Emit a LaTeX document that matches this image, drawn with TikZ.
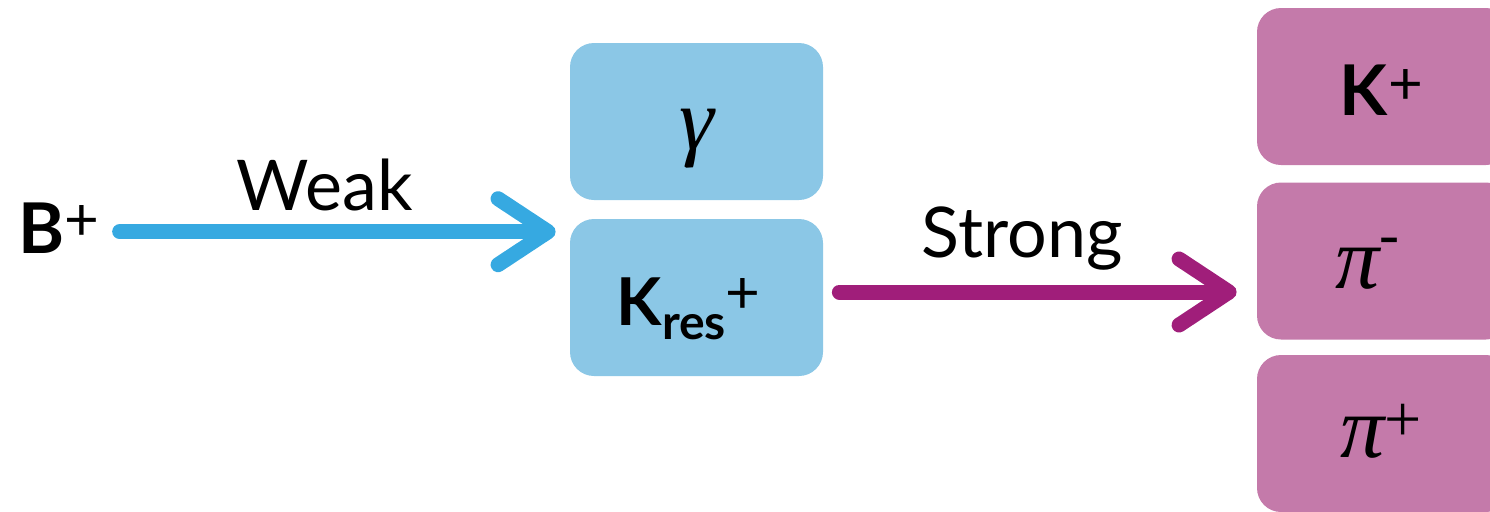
\documentclass[tikz,border=0pt]{standalone}
\usepackage{fontspec}
\setmainfont{Lato}
\newfontfamily\grk{Liberation Serif}
\usetikzlibrary{arrows.meta}
\definecolor{boxblue}{HTML}{8BC7E6}
\definecolor{boxpurple}{HTML}{C47AAA}
\definecolor{arrblue}{HTML}{36A9E1}
\definecolor{arrpurple}{HTML}{A01E7A}
\newcommand{\chg}[2]{\raisebox{#1}{\fontsize{30}{34}\selectfont\mdseries\upshape #2}}
\tikzset{
  particle/.style={rounded corners=12pt, minimum width=126.5pt, minimum height=78.5pt, inner sep=0pt},
  bluebox/.style={particle, fill=boxblue},
  purplebox/.style={particle, fill=boxpurple},
  lbl/.style={anchor=base, inner sep=0pt, font=\fontsize{35}{40}\selectfont},
  greek/.style={anchor=base, inner sep=0pt, font=\grk\itshape\fontsize{44}{50}\selectfont},
  chalk/.style={line width=7.5pt, line cap=round, line join=round,
    -{Straight Barb[round, length=25pt, width=33pt]}},
}
\begin{document}
\begin{tikzpicture}[x=0.5pt, y=-0.5pt]
  \useasboundingbox (0,0) rectangle (1490,511);
  \clip (0,0) rectangle (1490,511);

  % intermediate state
  \node[bluebox] (gamma) at (696.5,121.5) {};
  \node[bluebox] (kres) at (696.5,297.5) {};
  % final state
  \node[purplebox] (kp) at (1383.5,86.5) {};
  \node[purplebox] (pim) at (1383.5,261) {};
  \node[purplebox] (pip) at (1383.5,433.5) {};

  % particle labels
  \node[lbl, anchor=base west] (bp) at (18,253) {\textbf{B}\chg{6.5pt}{+}};
  \node[greek] (gammaT) at ([yshift=-14pt]gamma.center) {γ};
  \node[lbl, font=\fontsize{33}{38}\selectfont] (kresT) at ([xshift=-4pt, yshift=-13.75pt]kres.center)
    {\textbf{K}\raisebox{-0.22em}{\fontsize{24}{28}\selectfont\bfseries res}\chg{6pt}{+}};
  \node[lbl] (kpT) at ([xshift=-1pt, yshift=-14.25pt]kp.center) {\textbf{K}\chg{5.5pt}{+}};
  \node[greek] (pimT) at ([xshift=-8pt, yshift=-13.5pt]pim.center) {π\raisebox{0.38em}{\fontsize{30}{34}\selectfont -}};
  \node[greek] (pipT) at ([xshift=-1pt, yshift=-12pt]pip.center) {π\raisebox{8pt}{\fontsize{33}{36}\selectfont\upshape +}};

  % interactions
  \draw[chalk, arrblue] ([xshift=10pt, yshift=-2pt]bp.east) -- ([xshift=-7pt, yshift=-2pt]bp.east -| kres.west)
    coordinate[pos=0.47] (weakmid);
  \node[lbl] (weak) at ([yshift=10.5pt]weakmid) {Weak};
  \draw[chalk, arrpurple] ([xshift=8pt, yshift=2.75pt]kres.east) -- ([xshift=-10pt, yshift=2.75pt]kres.east -| pim.west)
    coordinate[pos=0.46] (strongmid);
  \node[lbl] (strong) at ([yshift=17.5pt]strongmid) {Strong};
\end{tikzpicture}
\end{document}
